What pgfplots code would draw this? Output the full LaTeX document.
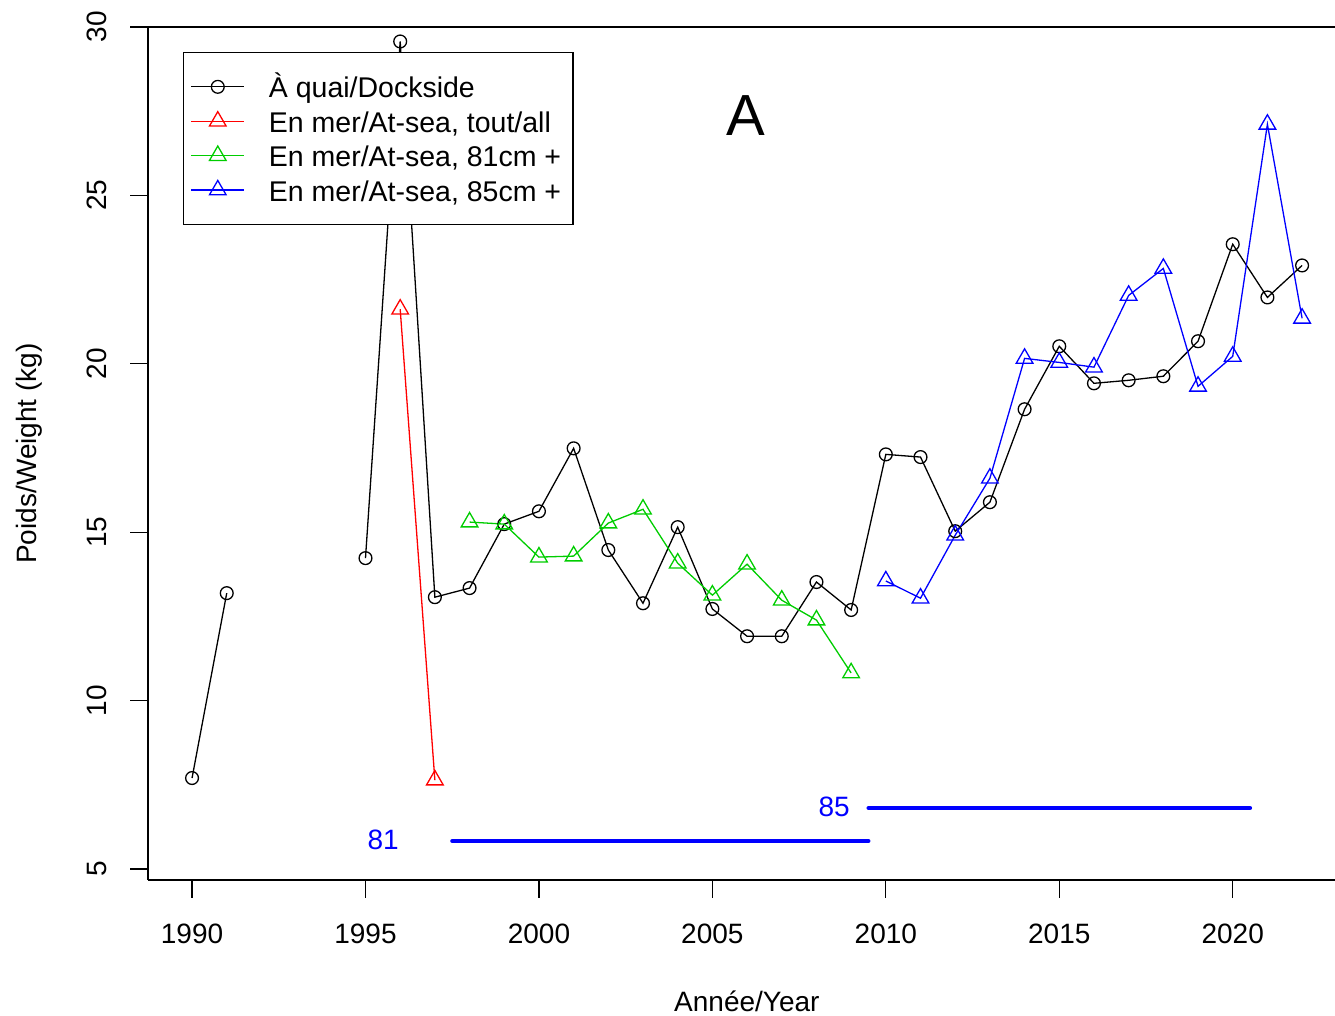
\documentclass[border=0pt]{standalone}
\usepackage{pgfplots}
\pgfplotsset{compat=1.18}
\usepackage{fontspec}
\setmainfont{Liberation Sans}
\definecolor{rgreen}{RGB}{0,205,0}
\begin{document}
\begin{tikzpicture}
\useasboundingbox (-74pt,-68pt) rectangle (593.5pt,440pt);
\begin{axis}[
  scale only axis,
  width=598.9pt, height=426.5pt,
  xmin=1988.73, xmax=2023.26,
  ymin=4.673, ymax=30,
  axis x line*=bottom, axis y line*=left,
  line width=0.65pt,
  xtick={1990,1995,2000,2005,2010,2015,2020},
  ytick={5,10,15,20,25,30},
  tick align=outside,
  major tick length=9pt,
  tick style={black, line width=0.65pt},
  /pgf/number format/assume math mode=true,
  /pgf/number format/1000 sep={},
  ticklabel style={font=\fontsize{14}{16.8}\selectfont},
  xticklabel style={anchor=north, yshift=-9.5pt},
  yticklabel style={xshift=-12pt, rotate=90, anchor=base},
  label style={font=\fontsize{14}{16.8}\selectfont},
  xlabel={Année/Year},
  ylabel={Poids/Weight (kg)},
  xlabel style={at={(axis description cs:0.5,-0.1536)}, anchor=base},
  ylabel style={at={(axis description cs:-0.0927,0.5)}, anchor=base, rotate=0},
  unbounded coords=jump,
  clip=false,
  legend style={at={(axis description cs:0.0292,0.9707)}, anchor=north west,
    draw=black, line width=0.65pt, font=\fontsize{14.25}{17}\selectfont,
    inner xsep=3.5pt, inner ysep=8.5pt, row sep=0pt,
    nodes={text height=12pt, text depth=1pt, inner ysep=2.1pt, inner xsep=0pt},
    /tikz/every odd column/.append style={column sep=12pt}},
  legend cell align=left,
  legend image code/.code={\draw[mark repeat=2,mark phase=2] plot coordinates {(0pt,0pt) (13.25pt,0pt) (26.5pt,0pt)};},
]
% frame top and right
\draw[line width=0.65pt] (rel axis cs:0,1) -- (rel axis cs:1,1) -- (rel axis cs:1,0);
\addplot[black, line width=0.65pt, mark=o, mark size=3.2pt, mark options={line width=0.65pt}] coordinates {
(1990,7.70) (1991,13.19) (1993,nan) (1995,14.23) (1996,29.57) (1997,13.07) (1998,13.34)
(1999,15.24) (2000,15.62) (2001,17.49) (2002,14.47) (2003,12.89) (2004,15.15)
(2005,12.72) (2006,11.91) (2007,11.91) (2008,13.52) (2009,12.69) (2010,17.31)
(2011,17.23) (2012,15.03) (2013,15.89) (2014,18.65) (2015,20.52) (2016,19.42)
(2017,19.51) (2018,19.63) (2019,20.67) (2020,23.55) (2021,21.97) (2022,22.92)
};
\addlegendentry{À quai/Dockside}
\addplot[red, line width=0.65pt, mark=triangle, mark size=4.8pt, mark options={line width=0.65pt}] coordinates {
(1996,21.62) (1997,7.64)
};
\addlegendentry{En mer/At-sea, tout/all\hspace*{7.5pt}}
\addplot[rgreen, line width=0.65pt, mark=triangle, mark size=4.8pt, mark options={line width=0.65pt}] coordinates {
(1998,15.30) (1999,15.24) (2000,14.26) (2001,14.29) (2002,15.27) (2003,15.68)
(2004,14.08) (2005,13.13) (2006,14.05) (2007,12.98) (2008,12.39) (2009,10.82)
};
\addlegendentry{En mer/At-sea, 81cm +}
\addplot[blue, line width=0.65pt, mark=triangle, mark size=4.8pt, mark options={line width=0.65pt}] coordinates {
(2010,13.55) (2011,13.04) (2012,14.91) (2013,16.60) (2014,20.16) (2015,20.04)
(2016,19.90) (2017,22.03) (2018,22.83) (2019,19.33) (2020,20.22) (2021,27.11) (2022,21.35)
};
\addlegendentry{En mer/At-sea, 85cm +}
\addplot[blue, line width=2pt, line cap=round, forget plot] coordinates {(1997.5,5.83) (2009.5,5.83)};
\addplot[blue, line width=2pt, line cap=round, forget plot] coordinates {(2009.5,6.81) (2020.5,6.81)};
\node[blue, font=\fontsize{14}{16.8}\selectfont, anchor=center] at (axis cs:1995.51,5.86) {81};
\node[blue, font=\fontsize{14}{16.8}\selectfont, anchor=center] at (axis cs:2008.51,6.84) {85};
\node[font=\fontsize{29}{34}\selectfont, anchor=base] at (axis cs:2005.95,26.78) {A};
\end{axis}
\end{tikzpicture}
\end{document}
